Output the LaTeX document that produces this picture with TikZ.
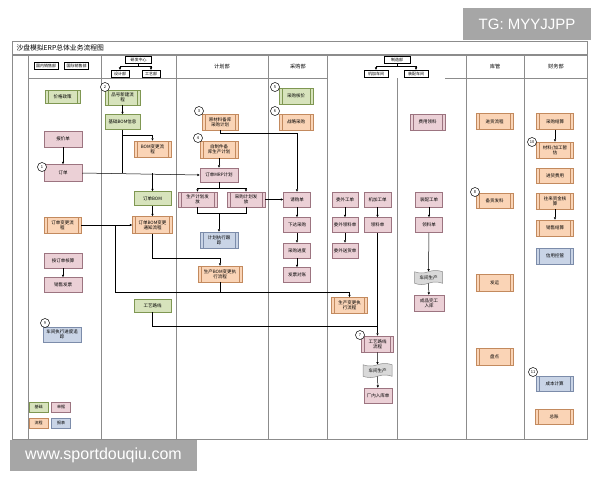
\documentclass[tikz,border=0pt]{standalone}
\usepackage{fontspec}
\setmainfont{Noto Sans CJK SC}
\newfontfamily\wmfont{Liberation Sans}
\usetikzlibrary{positioning}
\usetikzlibrary{arrows.meta}
\usetikzlibrary{shapes.symbols}
\definecolor{grnF}{HTML}{D7E3BC}
\definecolor{grnD}{HTML}{7F9752}
\definecolor{pnkF}{HTML}{EBD0D6}
\definecolor{pnkD}{HTML}{9C7480}
\definecolor{orgF}{HTML}{FAD4B6}
\definecolor{orgD}{HTML}{C38A5E}
\definecolor{bluF}{HTML}{C9D4E6}
\definecolor{bluD}{HTML}{7C8CAA}
\definecolor{gryF}{HTML}{D9D9D9}
\definecolor{lane}{HTML}{8C8C8C}
\definecolor{wm}{HTML}{A6A6A6}
\newcommand{\boxfont}{\fontsize{4.5}{5.4}\selectfont}
\newcommand{\smallfont}{\fontsize{4}{4.8}\selectfont}
\newcommand{\headfont}{\fontsize{5.2}{6}\selectfont}

\begin{document}
\begin{tikzpicture}[x=1pt, y=-1pt,
  box/.style={draw, line width=.5pt, inner sep=0pt, align=center, font=\boxfont, minimum width=37pt, minimum height=15pt},
  grn/.style={box, fill=grnF, draw=grnD},
  pnk/.style={box, fill=pnkF, draw=pnkD},
  org/.style={box, fill=orgF, draw=orgD},
  blu/.style={box, fill=bluF, draw=bluD},
  bars/.style={path picture={
    \draw[#1, line width=.5pt] ([xshift=3pt]path picture bounding box.north west) -- ([xshift=3pt]path picture bounding box.south west)
      ([xshift=-3pt]path picture bounding box.north east) -- ([xshift=-3pt]path picture bounding box.south east);}},
  grnp/.style={grn, bars=grnD},
  pnkp/.style={pnk, bars=pnkD},
  orgp/.style={org, bars=orgD},
  blup/.style={blu, bars=bluD},
  tapebox/.style={tape, draw=lane, fill=gryF, line width=.5pt, tape bend top=in and out, tape bend bottom=in and out, tape bend height=2.5pt, inner sep=0pt, minimum width=29pt, minimum height=14pt, font=\boxfont},
  hbox/.style={draw, line width=.4pt, inner sep=0pt, font=\smallfont, minimum height=7pt, minimum width=24pt},
  num/.style={draw, circle, fill=white, line width=.5pt, inner sep=0pt, minimum size=9pt, font=\smallfont},
  arr/.style={-{Triangle[length=2.4pt,width=2.2pt]}, line width=.5pt},
  ln/.style={line width=.5pt},
  grid/.style={draw=lane, line width=.8pt}]
\useasboundingbox (0,0) rectangle (600,480);

\draw[grid] (12,41) rectangle (587,439);
\draw[draw=lane, line width=1.6pt] (12,55) -- (587,55);
\draw[grid] (28,78) -- (327,78) (445,78) -- (587,78);
\foreach \x in {28,101,176,268,327,466,524}
  \draw[grid] (\x,55) -- (\x,439);
\draw[grid] (397,78) -- (397,439);

\node[anchor=west, font=\fontsize{6.8}{7.5}\selectfont] (title) at (13,48) {沙盘模拟ERP总体业务流程图};

\node[hbox] (gnxs) at (46,65.5) {国内销售部};
\node[hbox] (gjxs) at (76.5,65.5) {国际销售部};
\node[hbox, minimum width=26pt] (yfzx) at (138.5,59.5) {研发中心};
\node[hbox, minimum width=18pt] (sjb) at (120,73.5) {设计部};
\node[hbox, minimum width=18pt] (gyb) at (151,73.5) {工艺部};
\draw[arr] (yfzx.south) -- ++(0,3.5) -| (sjb.north);
\draw[arr] (yfzx.south) -- ++(0,3.5) -| (gyb.north);
\node[font=\headfont] (jhb) at (222,67) {计划部};
\node[font=\headfont] (cgb) at (298,67) {采购部};
\node[hbox, minimum width=26pt] (zzb) at (397,59.5) {制造部};
\node[hbox] (jjcj) at (376,73.5) {机加车间};
\node[hbox] (zpcj) at (416,73.5) {装配车间};
\draw[arr] (zzb.south) -- ++(0,3.5) -| (jjcj.north);
\draw[arr] (zzb.south) -- ++(0,3.5) -| (zpcj.north);
\node[font=\headfont] (kg) at (495,67) {库管};
\node[font=\headfont] (cwb) at (556,67) {财务部};

\node[grnp, minimum width=35pt, minimum height=13pt] (jgzc) at (62.5,96.5) {价格政策};
\node[pnk, minimum width=38pt, minimum height=16pt] (bjd) at (63,139) {报价单};
\node[pnk, minimum width=38pt, minimum height=17pt] (dd) at (63,173) {订单};
\node[orgp, minimum height=16pt] (ddbg) at (62.5,225) {订单变更流\\程};
\node[pnk, minimum width=38pt] (ysd) at (63,260.5) {按订单核算};
\node[pnk, minimum width=38pt, below = 9pt of ysd] (xsfp) {销售发票};
\node[blu, minimum width=38pt] (cjzx) at (62,334.5) {车间执行进度追\\踪};

\node[grnp, minimum width=35pt] (pxjl) at (122.5,97.5) {品号新建流\\程};
\node[grn, minimum width=35pt, below = 9pt of pxjl] (jcbom) {基础BOM信息};
\node[orgp, minimum height=16pt] (bombg) at (152.5,149) {BOM变更流\\程};
\node[grn, minimum height=14pt] (ddbom) at (152.5,198.5) {订单BOM};
\node[orgp, minimum width=40pt, minimum height=17pt] (ddbomtz) at (152.5,225) {订单BOM变更\\通知流程};
\node[grn, minimum height=13pt] (gylx) at (152.5,305.5) {工艺路线};

\node[orgp, minimum width=36pt, minimum height=16pt] (ycl) at (220,122) {原材料备库\\采购计划};
\node[orgp, minimum width=38pt, minimum height=17pt] (zzj) at (219,149.5) {自制件备\\库生产计划};
\node[pnk, minimum width=38pt, minimum height=14pt] (mrp) at (219,175) {订单MRP计划};
\node[pnkp, minimum width=39pt] (scjh) at (197.5,199.5) {生产计划发\\放};
\node[pnkp, minimum width=38pt] (cgjh) at (246,199.5) {采购计划发\\放};
\node[blup, minimum width=38pt, minimum height=16pt] (jhzx) at (219,240) {计划执行跟\\踪};
\node[orgp, minimum width=44pt, minimum height=16pt] (scbom) at (220,274) {生产BOM变更执\\行流程};

\node[grnp, minimum width=34pt, minimum height=16pt] (cghj) at (296,96) {采购核价};
\node[orgp, minimum width=34pt, minimum height=16pt] (zlcg) at (296,122) {战略采购};
\node[pnk, minimum width=27pt] (qgd) at (297,199.5) {请购单};
\node[pnk, minimum width=27pt, below = 10pt of qgd] (xdcg) {下达采购};
\node[pnk, minimum width=27pt, below = 10pt of xdcg] (cgjd) {采购进度};
\node[pnk, minimum width=27pt, below = 9pt of cgjd] (fpdz) {发票对账};

\node[pnk, minimum width=26pt] (wwgd) at (345,199.5) {委外工单};
\node[pnk, minimum width=26pt, below = 10pt of wwgd] (wwll) {委外领料单};
\node[pnk, minimum width=26pt, below = 10pt of wwll] (wwsh) {委外送货单};
\node[pnk, minimum width=27pt] (jjgd) at (377.5,199.5) {机加工单};
\node[pnk, minimum width=27pt, below = 10pt of jjgd] (lld1) {领料单};
\node[orgp, minimum width=36pt, minimum height=16pt] (scbg) at (349.5,305.5) {生产变更执\\行流程};
\node[pnkp, minimum width=32pt, minimum height=16pt] (gylc) at (377.5,344) {工艺路线\\流程};
\node[tapebox] (cjsc1) at (377.5,370.5) {车间生产};
\node[pnk, minimum width=28pt] (cnrk) at (378,395.5) {厂内入库单};

\node[pnkp, minimum width=35pt, minimum height=16pt] (fyll) at (427.5,122) {费用领料};
\node[pnk, minimum width=27pt] (zpgd) at (429,199.5) {装配工单};
\node[pnk, minimum width=27pt, below = 10pt of zpgd] (lld2) {领料单};
\node[tapebox, minimum width=28pt] (cjsc2) at (428.5,277.5) {车间生产};
\node[pnk, minimum width=30pt, minimum height=16pt] (cpwg) at (429,303) {成品完工\\入库};

\node[orgp, minimum height=16pt] (jhlc) at (494.5,121.5) {进货流程};
\node[orgp] (bhfl) at (494.5,200.5) {备货发料};
\node[orgp, minimum height=17pt] (fy) at (494.5,282.5) {发运};
\node[orgp, minimum height=17pt] (pd) at (494.5,356.5) {盘点};

\node[orgp, minimum height=16pt] (cgjs) at (555,121.5) {采购结算};
\node[orgp, minimum height=16pt] (clzg) at (555,150) {材料/加工暂\\估};
\node[orgp] (jhfy) at (555,175.5) {进货费用};
\node[orgp, minimum height=16pt] (wlzj) at (555,201) {往来资金核\\算};
\node[orgp, minimum height=16pt] (xsjs) at (555,228) {销售结算};
\node[blup, minimum height=16pt] (xykz) at (555,256) {信用控管};
\node[blup] (cbjs) at (554.5,383.5) {成本计算};
\node[orgp, minimum width=38pt] (zz) at (554,416.5) {总账};

\node[grn, minimum width=19pt, minimum height=10pt, font=\smallfont] (lg1) at (38.5,407) {基础};
\node[pnk, minimum width=19pt, minimum height=10pt, font=\smallfont] (lg2) at (61,407) {单据};
\node[org, minimum width=19pt, minimum height=10pt, font=\smallfont] (lg3) at (38.5,423) {流程};
\node[blu, minimum width=19pt, minimum height=10pt, font=\smallfont] (lg4) at (61,423) {报表};

\node[num] (n1) at (42,167) {1};
\node[num] (n2) at (105,87) {2};
\node[num] (n3) at (199,111) {3};
\node[num] (n4) at (198,138) {4};
\node[num] (n5) at (275,87) {5};
\node[num] (n6) at (275,111) {6};
\node[num] (n7) at (360,335) {7};
\node[num] (n8) at (475,192) {8};
\node[num] (n9) at (45,323) {9};
\node[num] (n10) at (532,142) {10};
\node[num] (n11) at (533,372) {11};

\coordinate (c1) at (115,225);
\coordinate (c2) at (115,292);
\coordinate (c4) at (377.5,326);
\coordinate (c5) at (219,213);

\draw[arr] (bjd) -- (dd);
\draw[arr] (ysd) -- (xsfp);
\draw[arr] (pxjl) -- (jcbom);
\draw[arr] (jcbom.south) -- ++(0,5) -| (bombg.north);
\draw[ln] (jcbom.south) -- (jcbom.south |- dd.east);
\draw[arr] (dd.east) -- (mrp.west);
\draw[arr] (ddbom.north |- dd.east) -- (ddbom.north);
\draw[arr] (ddbom) -- (ddbomtz);
\draw[arr] (ddbg) -- (ddbomtz);
\draw[arr] (c1) -- (c2) -| (scbg.north);
\draw[arr] (ddbomtz.south) -- ++(0,24.5) -| (scbom.north);
\draw[ln] (scbom.south) -- (scbom.south |- c2);
\draw[ln] (gylx.south) |- (c4);
\draw[arr] (ycl.south) -- ++(0,3) -| (qgd.north);
\draw[arr] (zzj) -- (mrp);
\draw[arr] (mrp.south) -- ++(0,6) -| (scjh.north);
\draw[arr] (mrp.south) -- ++(0,6) -| (cgjh.north);
\draw[ln] (scjh.south) -- ++(0,6) -| (cgjh.south);
\draw[arr] (c5) -- (jhzx.north);
\draw[arr] (cgjh.east) -- (qgd.west);
\draw[arr] (qgd) -- (xdcg);
\draw[arr] (xdcg) -- (cgjd);
\draw[arr] (cgjd) -- (fpdz);
\draw[arr] (wwgd) -- (wwll);
\draw[arr] (wwll) -- (wwsh);
\draw[arr] (jjgd) -- (lld1);
\draw[arr] (lld1) -- (gylc);
\draw[arr] (gylc) -- (cjsc1);
\draw[arr] (cjsc1) -- (cnrk);
\draw[arr] (zpgd) -- (lld2);
\draw[arr] (lld2) -- (cjsc2);
\draw[arr] (cjsc2) -- (cpwg);
\draw[arr] (cgjs) -- (clzg);
\draw[arr] (wlzj) -- (xsjs);

\fill[wm] (463,8) rectangle (591,40);
\node[text=white, font=\wmfont\fontsize{15}{16}\selectfont] (tg) at (527,24) {TG: MYYJJPP};
\fill[wm] (10,440) rectangle (197,471);
\node[text=white, font=\wmfont\fontsize{16}{17}\selectfont] (site) at (103.5,455.5) {www.sportdouqiu.com};
\end{tikzpicture}
\end{document}
